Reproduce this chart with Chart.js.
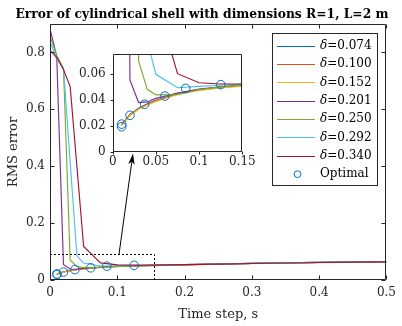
<!DOCTYPE html>
<html><head><meta charset="utf-8">
<script src="https://cdn.jsdelivr.net/npm/chart.js@4.4.0/dist/chart.umd.min.js"></script>
<style>
html,body{margin:0;padding:0;background:#fff;}
#wrap{position:relative;width:402px;height:326px;overflow:hidden;}
#main{position:absolute;left:0;top:0;}
#inset{position:absolute;left:78px;top:40px;}
</style></head><body>
<div id="wrap"><canvas id="main" width="402" height="326"></canvas><canvas id="inset" width="185" height="135"></canvas></div>
<script>
// ---------------- data ----------------
const chartTitle = 'Error of cylindrical shell with dimensions R=1, L=2 m';
const xTitle = 'Time step, s';
const yTitle = 'RMS error';
const deltaLabels = ['0.074','0.100','0.152','0.201','0.250','0.292','0.340'];
const optimalLabel = 'Optimal';

const tEnv   = [0.01,0.02,0.03,0.04,0.05,0.075,0.1,0.125,0.15,0.2,0.25,0.3,0.35,0.4,0.45,0.5];
const err074 = [0.0207,0.0287,0.0334,0.0368,0.0395,0.0447,0.0478,0.0497,0.0510,0.0537,0.0562,0.0584,0.0602,0.0618,0.0630,0.0641];
const err100 = [0.0204,0.0284,0.0331,0.0365,0.0392,0.0444,0.0475,0.0494,0.0507,0.0534,0.0558,0.0580,0.0599,0.0615,0.0628,0.0640];
const err152 = [0.0198,0.0279,0.0326,0.0360,0.0387,0.0440,0.0471,0.0491,0.0504,0.0532,0.0556,0.0578,0.0597,0.0613,0.0627,0.0639];
const t201   = [0.001,0.005,0.01,0.02,0.03,0.04,0.05,0.075,0.1,0.125,0.15,0.2,0.25,0.3,0.35,0.4,0.45,0.5];
const err201 = [0.873,0.835,0.785,0.055,0.0378,0.0383,0.0410,0.0452,0.0482,0.0500,0.0513,0.0539,0.0563,0.0584,0.0602,0.0617,0.0630,0.0641];
const t250   = [0.001,0.005,0.01,0.02,0.03,0.04,0.05,0.075,0.1,0.125,0.15,0.2,0.25,0.3,0.35,0.4,0.45,0.5];
const err250 = [0.850,0.823,0.790,0.745,0.0696,0.0480,0.0437,0.0438,0.0478,0.0499,0.0512,0.0538,0.0562,0.0583,0.0601,0.0617,0.0630,0.0641];
const t292   = [0.001,0.005,0.01,0.02,0.04,0.05,0.075,0.1,0.125,0.15,0.2,0.25,0.3,0.35,0.4,0.45,0.5];
const err292 = [0.832,0.808,0.778,0.745,0.085,0.0595,0.0492,0.0502,0.0511,0.0520,0.0541,0.0564,0.0585,0.0603,0.0618,0.0630,0.0641];
const t340   = [0.001,0.005,0.01,0.02,0.03,0.05,0.075,0.1,0.125,0.15,0.2,0.25,0.3,0.35,0.4,0.45,0.5];
const err340 = [0.805,0.795,0.782,0.740,0.680,0.118,0.0600,0.0530,0.0521,0.0521,0.0540,0.0560,0.0580,0.0598,0.0614,0.0627,0.0638];
const tOpt   = [0.0104,0.0104,0.020,0.037,0.0605,0.0845,0.125];
const errOpt = [0.0192,0.0212,0.0280,0.0365,0.0428,0.0487,0.0516];

const mainXTicks = [0,0.1,0.2,0.3,0.4,0.5];
const mainXLabels = ['0','0.1','0.2','0.3','0.4','0.5'];
const mainYTicks = [0,0.2,0.4,0.6,0.8];
const mainYLabels = ['0','0.2','0.4','0.6','0.8'];
const insetXTicks = [0,0.05,0.1,0.15];
const insetXLabels = ['0','0.05','0.1','0.15'];
const insetYTicks = [0,0.02,0.04,0.06];
const insetYLabels = ['0','0.02','0.04','0.06'];
const mainRange = {x:[0,0.5], y:[0,0.9]};
const insetRange = {x:[0,0.15], y:[0,0.075]};
const zoomRectX = [0,0.155];
const zoomRectY = [0,0.09];
const arrowFrom = [0.1025,0.09];
const arrowTo = [0.1233,0.445];

// ---------------- styles ----------------
const FONT = "'DejaVu Serif', serif";
const AX = '#262626';
const lineColors = ['#0072BD','#D95319','#EDB120','#7E2F8E','#77AC30','#4DBEEE','#A2142F'];
const optColor = '#0072BD';
Chart.defaults.font.family = FONT;
Chart.defaults.color = AX;

const seriesT = [tEnv,tEnv,tEnv,t201,t250,t292,t340];
const seriesE = [err074,err100,err152,err201,err250,err292,err340];
function pts(t,e){return t.map((v,i)=>({x:v,y:e[i]}));}
function makeDatasets(r){
  const ds = deltaLabels.map((d,i)=>({
    label:'δ='+d, data:pts(seriesT[i],seriesE[i]), borderColor:lineColors[i], backgroundColor:lineColors[i],
    borderWidth:1.15, pointRadius:0, tension:0, fill:false, order:20-i
  }));
  ds.push({label:optimalLabel, data:pts(tOpt,errOpt), showLine:false, borderColor:optColor,
    pointBorderColor:optColor, pointBackgroundColor:'rgba(0,0,0,0)', pointRadius:r, pointBorderWidth:1, order:0});
  return ds;
}
function lab(ticks,labels){return v=>{const i=ticks.findIndex(t=>Math.abs(t-v)<1e-9);return i>=0?labels[i]:'';};}
function setTicks(arr){return s=>{s.ticks=arr.map(v=>({value:v}));};}

function drawFrame(chart, len, inward, allSides){
  const {ctx, chartArea:a, scales:{x,y}} = chart;
  const L=Math.round(a.left)+0.5, R=Math.round(a.right)-0.5, T=Math.round(a.top)+0.5, B=Math.round(a.bottom)-0.5;
  ctx.save();
  ctx.strokeStyle=AX; ctx.lineWidth=1; ctx.setLineDash([]);
  ctx.beginPath();
  ctx.rect(L,T,R-L,B-T);
  const d = inward?1:-1;
  x.ticks.forEach(t=>{const p=Math.round(x.getPixelForValue(t.value))+0.5;
    ctx.moveTo(p,B); ctx.lineTo(p,B-d*len);
    if(allSides){ctx.moveTo(p,T); ctx.lineTo(p,T+d*len);} });
  y.ticks.forEach(t=>{const p=Math.round(y.getPixelForValue(t.value))+0.5;
    ctx.moveTo(L,p); ctx.lineTo(L+d*len,p);
    if(allSides){ctx.moveTo(R,p); ctx.lineTo(R-d*len,p);} });
  ctx.stroke();
  ctx.restore();
}

const mainPlugin = {
  id:'mainDecor',
  afterDatasetsDraw(chart){
    const {ctx, scales:{x,y}} = chart;
    drawFrame(chart,4,true,true);
    // zoom rectangle
    ctx.save();
    ctx.strokeStyle='#000'; ctx.lineWidth=1; ctx.setLineDash([2,2]);
    const x0=x.getPixelForValue(zoomRectX[0]), x1=Math.round(x.getPixelForValue(zoomRectX[1]))+0.5;
    const y0=y.getPixelForValue(zoomRectY[0]), y1=Math.round(y.getPixelForValue(zoomRectY[1]))+0.5;
    ctx.beginPath(); ctx.moveTo(x0,y1); ctx.lineTo(x1,y1); ctx.lineTo(x1,y0); ctx.stroke();
    ctx.setLineDash([]);
    // arrow
    const ax0=x.getPixelForValue(arrowFrom[0]), ay0=y.getPixelForValue(arrowFrom[1]);
    const ax1=x.getPixelForValue(arrowTo[0]), ay1=y.getPixelForValue(arrowTo[1]);
    const ang=Math.atan2(ay1-ay0,ax1-ax0), hl=11, hw=3.2;
    const bx=ax1-hl*Math.cos(ang), by=ay1-hl*Math.sin(ang);
    ctx.beginPath(); ctx.moveTo(ax0,ay0); ctx.lineTo(bx+2*Math.cos(ang),by+2*Math.sin(ang)); ctx.stroke();
    ctx.fillStyle='#000';
    ctx.beginPath();
    ctx.moveTo(ax1,ay1);
    ctx.lineTo(bx+hw*Math.sin(ang), by-hw*Math.cos(ang));
    ctx.lineTo(bx+2.5*Math.cos(ang), by+2.5*Math.sin(ang));
    ctx.lineTo(bx-hw*Math.sin(ang), by+hw*Math.cos(ang));
    ctx.closePath(); ctx.fill();
    ctx.restore();
  },
  afterDraw(chart){
    const ctx=chart.ctx;
    ctx.save();
    // title
    ctx.fillStyle='#000'; ctx.font="bold 12.3px "+FONT; ctx.textAlign='center'; ctx.textBaseline='alphabetic';
    ctx.fillText(chartTitle,202,17.5);
    // legend
    const L=272.5,T=33.5,W=105,H=152;
    ctx.fillStyle='#fff'; ctx.fillRect(L,T,W,H);
    ctx.strokeStyle=AX; ctx.lineWidth=1; ctx.strokeRect(L,T,W,H);
    const items=chart.data.datasets;
    items.forEach((ds,i)=>{
      const cy=45.7+i*18.35;
      const cyR=Math.round(cy)+0.5;
      if(ds.showLine===false){
        ctx.strokeStyle=ds.pointBorderColor; ctx.lineWidth=1;
        ctx.beginPath(); ctx.arc(297.5,cy,3.4,0,Math.PI*2); ctx.stroke();
        ctx.fillStyle='#000'; ctx.font="12px "+FONT; ctx.textAlign='left'; ctx.textBaseline='middle';
        ctx.fillText(ds.label,320,cy);
      } else {
        ctx.strokeStyle=ds.borderColor; ctx.lineWidth=1;
        ctx.beginPath(); ctx.moveTo(277,cyR); ctx.lineTo(315,cyR); ctx.stroke();
        ctx.fillStyle='#000'; ctx.textAlign='left'; ctx.textBaseline='middle';
        ctx.font="italic 12px "+FONT; ctx.fillText('δ',320,cy);
        const w=ctx.measureText('δ').width;
        ctx.font="12px "+FONT; ctx.fillText('='+deltaLabels[i],320+w,cy);
      }
    });
    ctx.restore();
  }
};

new Chart(document.getElementById('main'),{
  type:'line',
  data:{datasets:makeDatasets(4.3)},
  options:{
    responsive:false, animation:false, events:[],
    layout:{padding:{left:0,top:24,right:15.5,bottom:0}},
    plugins:{legend:{display:false},tooltip:{enabled:false},title:{display:false}},
    scales:{
      x:{type:'linear',min:mainRange.x[0],max:mainRange.x[1],
        afterFit(s){s.height=46;}, afterBuildTicks:setTicks(mainXTicks),
        grid:{display:false,drawTicks:false}, border:{display:false},
        ticks:{autoSkip:false,maxRotation:0,padding:6,font:{size:12},color:AX,callback:lab(mainXTicks,mainXLabels)},
        title:{display:true,text:xTitle,font:{size:13},color:AX,padding:{top:0,bottom:4}}},
      y:{type:'linear',min:mainRange.y[0],max:mainRange.y[1],
        afterFit(s){s.width=50;}, afterBuildTicks:setTicks(mainYTicks),
        grid:{display:false,drawTicks:false}, border:{display:false},
        ticks:{autoSkip:false,padding:5,font:{size:12},color:AX,callback:lab(mainYTicks,mainYLabels)},
        title:{display:true,text:yTitle,font:{size:13},color:AX,padding:{top:6,bottom:0}}}
    }
  },
  plugins:[mainPlugin]
});

const insetPlugin = {
  id:'insetDecor',
  beforeDatasetsDraw(chart){
    const {ctx,chartArea:a}=chart;
    ctx.save(); ctx.fillStyle='#fff'; ctx.fillRect(a.left,a.top,a.right-a.left,a.bottom-a.top); ctx.restore();
  },
  afterDatasetsDraw(chart){ drawFrame(chart,3,false,false); }
};

new Chart(document.getElementById('inset'),{
  type:'line',
  data:{datasets:makeDatasets(4.3)},
  options:{
    responsive:false, animation:false, events:[],
    layout:{padding:{left:0,top:8.3,right:20.7,bottom:0}},
    plugins:{legend:{display:false},tooltip:{enabled:false},title:{display:false}},
    scales:{
      x:{type:'linear',min:insetRange.x[0],max:insetRange.x[1],
        afterFit(s){s.height=23.3;}, afterBuildTicks:setTicks(insetXTicks),
        grid:{display:false,drawTicks:false}, border:{display:false},
        ticks:{autoSkip:false,maxRotation:0,padding:3,font:{size:12},color:AX,callback:lab(insetXTicks,insetXLabels)}},
      y:{type:'linear',min:insetRange.y[0],max:insetRange.y[1],
        afterFit(s){s.width=34.7;}, afterBuildTicks:setTicks(insetYTicks),
        grid:{display:false,drawTicks:false}, border:{display:false},
        ticks:{autoSkip:false,padding:7,font:{size:12},color:AX,callback:lab(insetYTicks,insetYLabels)}}
    }
  },
  plugins:[insetPlugin]
});
</script>
</body></html>
